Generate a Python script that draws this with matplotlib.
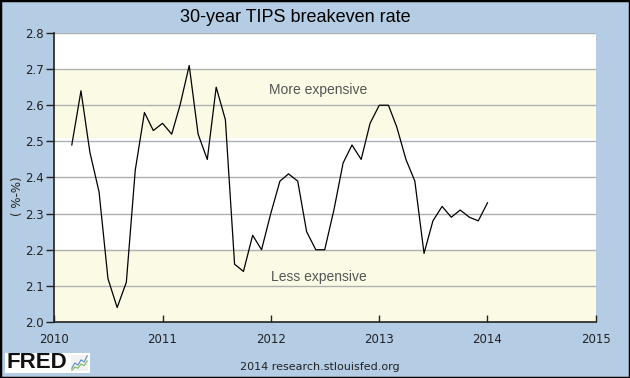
import matplotlib
matplotlib.use("Agg")
import matplotlib.pyplot as plt
import matplotlib.dates as mdates
from matplotlib.patches import Rectangle
import pandas as pd

# monthly 30-year TIPS breakeven rate, Mar 2010 .. Jan 2014
months = pd.date_range("2010-03-01", "2014-01-01", freq="MS")
rate = [2.49, 2.64, 2.47, 2.36, 2.12, 2.04, 2.11, 2.42, 2.58, 2.53,
        2.55, 2.52, 2.60, 2.71, 2.52, 2.45, 2.65, 2.56, 2.16, 2.14, 2.24, 2.20,
        2.30, 2.39, 2.41, 2.39, 2.25, 2.20, 2.20, 2.31, 2.44, 2.49, 2.45, 2.55,
        2.60, 2.60, 2.54, 2.45, 2.39, 2.19, 2.28, 2.32, 2.29, 2.31, 2.29, 2.28,
        2.33]
years = [2010, 2011, 2012, 2013, 2014, 2015]
yticks = [2.0, 2.1, 2.2, 2.3, 2.4, 2.5, 2.6, 2.7, 2.8]
more_band = (2.51, 2.7)
less_band = (2.0, 2.2)

# tiny sparkline for the logo
logo_blue = [1, 2, 1.6, 2.6, 2.2, 3.4]
logo_green = [0.6, 1.2, 1.0, 1.8, 1.5, 2.4]

bg = "#B4CDE5"
band = "#FBFBE5"

fig = plt.figure(figsize=(6.3, 3.78), dpi=100, facecolor=bg)
ax = fig.add_axes([54.3 / 630, 56 / 378, 541.4 / 630, 289 / 378])
ax.set_facecolor("white")

ax.axhspan(*more_band, color=band, lw=0, zorder=0)
ax.axhspan(*less_band, color=band, lw=0, zorder=0)
for v in yticks[1:]:
    ax.axhline(v, color="#AFAFAF", lw=1, zorder=1)

ax.plot(months, rate, color="black", lw=0.9, zorder=3)

ax.set_xlim(pd.Timestamp("2010-01-01"), pd.Timestamp("2015-01-01"))
ax.set_ylim(2.0, 2.8)
ax.set_xticks([pd.Timestamp(f"{y}-01-01") for y in years])
ax.xaxis.set_major_formatter(mdates.DateFormatter("%Y"))
ax.set_yticks(yticks)
ax.set_yticklabels([f"{v:.1f}" for v in yticks])

for s in ["top", "right"]:
    ax.spines[s].set_visible(False)
for s in ["left", "bottom"]:
    ax.spines[s].set_color("#222222")
    ax.spines[s].set_linewidth(1.2)

ax.tick_params(axis="x", direction="in", length=5, width=1, pad=8,
               labelsize=8.5, colors="#222222")
ax.tick_params(axis="y", direction="out", length=6, width=1, pad=1.5,
               labelsize=8.5, colors="#222222")

ax.text(0.487, 0.803, "More expensive", transform=ax.transAxes,
        ha="center", va="center", fontsize=10, color="#555555",
        family="Liberation Sans", zorder=2)
ax.text(0.489, 0.157, "Less expensive", transform=ax.transAxes,
        ha="center", va="center", fontsize=10, color="#555555",
        family="Liberation Sans", zorder=2)

fig.text(295 / 630, 1 - 17 / 378, "30-year TIPS breakeven rate",
         ha="center", va="center", fontsize=13, family="Liberation Sans")
fig.text(17 / 630, 1 - 196 / 378, "( %-%)", rotation=90, ha="center",
         va="center", fontsize=8.5, color="#222222")
fig.text(320 / 630, 11 / 378, "2014 research.stlouisfed.org",
         ha="center", va="center", fontsize=8, color="#222222")

# FRED logo
fig.patches.append(Rectangle((5 / 630, 5 / 378), 85 / 630, 20 / 378,
                             transform=fig.transFigure, facecolor="white",
                             edgecolor="none", zorder=-1))
fig.text(6 / 630, 15 / 378, "FRED", ha="left", va="center", fontsize=16,
         fontweight="heavy", family="Liberation Sans", color="#111111")
lax = fig.add_axes([71 / 630, 7 / 378, 17 / 630, 16 / 378])
lax.plot(logo_blue, color="#5A8FC8", lw=0.8)
lax.plot(logo_green, color="#7DB85A", lw=0.8)
lax.set_xticks([])
lax.set_yticks([])
lax.set_facecolor("#F2F2F2")
for s in lax.spines.values():
    s.set_visible(False)

# outer black frame
fig.patches.append(Rectangle((0, 0), 1, 1, transform=fig.transFigure,
                             fill=False, edgecolor="black", lw=2.5))

fig.savefig("out.png", dpi=100, facecolor=bg)
